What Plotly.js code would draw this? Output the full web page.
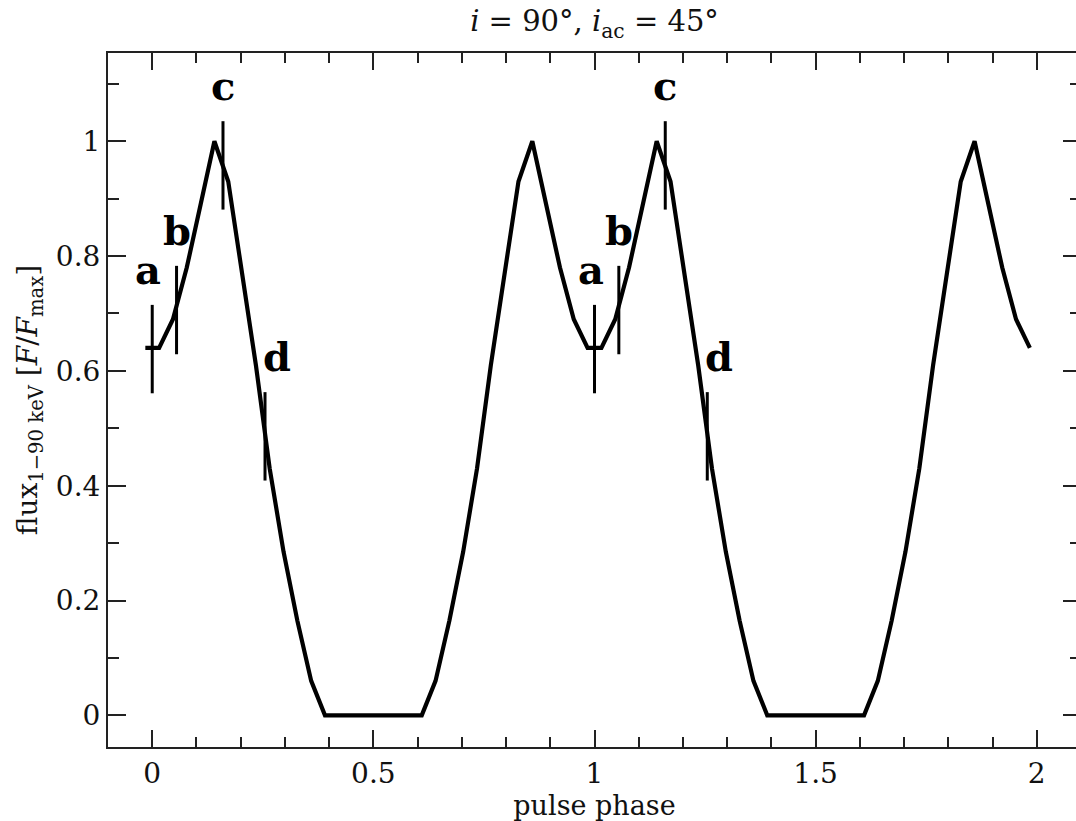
<!DOCTYPE html>
<html>
<head>
<meta charset="utf-8">
<script src="https://cdn.plot.ly/plotly-3.0.1.min.js"></script>
<style>
html,body{margin:0;padding:0;overflow:hidden;background:#fff;}
#chart{width:1090px;height:821px;}
</style>
</head>
<body>
<div id="chart"></div>
<script>
// Pulse profile: phase samples and normalised flux (two cycles)
const phase = [
  -0.0156, 0.0156, 0.0469, 0.0781, 0.1094, 0.1406, 0.1719, 0.2031, 0.2344,
  0.2656, 0.2969, 0.3281, 0.3594, 0.3906, 0.4219, 0.4531, 0.4844,
  0.5156, 0.5469, 0.5781, 0.6094, 0.6406, 0.6719, 0.7031, 0.7344,
  0.7656, 0.7969, 0.8281, 0.8594, 0.8906, 0.9219, 0.9531, 0.9844,
  1.0156, 1.0469, 1.0781, 1.1094, 1.1406, 1.1719, 1.2031, 1.2344,
  1.2656, 1.2969, 1.3281, 1.3594, 1.3906, 1.4219, 1.4531, 1.4844,
  1.5156, 1.5469, 1.5781, 1.6094, 1.6406, 1.6719, 1.7031, 1.7344,
  1.7656, 1.7969, 1.8281, 1.8594, 1.8906, 1.9219, 1.9531, 1.9844
];
const flux = [
  0.64, 0.64, 0.69, 0.78, 0.89, 1.00, 0.93, 0.775, 0.61,
  0.43, 0.285, 0.165, 0.06, 0.0, 0.0, 0.0, 0.0,
  0.0, 0.0, 0.0, 0.0, 0.06, 0.165, 0.285, 0.43,
  0.61, 0.775, 0.93, 1.00, 0.89, 0.78, 0.69, 0.64,
  0.64, 0.69, 0.78, 0.89, 1.00, 0.93, 0.775, 0.61,
  0.43, 0.285, 0.165, 0.06, 0.0, 0.0, 0.0, 0.0,
  0.0, 0.0, 0.0, 0.0, 0.06, 0.165, 0.285, 0.43,
  0.61, 0.775, 0.93, 1.00, 0.89, 0.78, 0.69, 0.64
];

// Marked phases a–d (two cycles) with flux at the marks
const markLabels = ["a", "b", "c", "d", "a", "b", "c", "d"];
const markPhase = [0.0, 0.055, 0.16, 0.255, 1.0, 1.055, 1.16, 1.255];
const markFlux = [0.638, 0.706, 0.958, 0.486, 0.638, 0.706, 0.958, 0.486];
const markHalf = 0.077;

// Axis tick values and labels
const xTickVals = [0, 0.5, 1, 1.5, 2];
const xTickText = ["0", "0.5", "1", "1.5", "2"];
const yTickVals = [0, 0.2, 0.4, 0.6, 0.8, 1];
const yTickText = ["0", "0.2", "0.4", "0.6", "0.8", "1"];

const serif = "DejaVu Serif, Liberation Serif, serif";
const ink = "#111";

const traces = [
  {
    x: phase, y: flux, type: "scatter", mode: "lines",
    line: {color: "#000", width: 4.2}, hoverinfo: "skip", showlegend: false
  },
  {
    x: markPhase, y: markFlux, type: "scatter", mode: "markers",
    marker: {size: 0.1, color: "rgba(0,0,0,0)"},
    error_y: {type: "constant", value: markHalf, width: 0, thickness: 3, color: "#000"},
    hoverinfo: "skip", showlegend: false
  }
];

const labelShiftX = [-4, 0, 0, 12, -4, 0, 0, 12];
const annotations = markLabels.map((t, i) => ({
  x: markPhase[i], y: markFlux[i] + markHalf, xref: "x", yref: "y",
  text: "<b>" + t + "</b>", showarrow: false,
  xanchor: "center", yanchor: "bottom", xshift: labelShiftX[i], yshift: 10,
  font: {family: serif, size: 40, color: "#000"}
}));

const axisCommon = {
  showline: true, linecolor: "#222", linewidth: 2, mirror: "allticks",
  ticks: "inside", tickcolor: "#222", tickwidth: 2,
  showgrid: false, zeroline: false,
  tickfont: {family: serif, size: 28, color: ink},
  fixedrange: true
};

const layout = {
  width: 1090, height: 821,
  margin: {l: 108, r: 9, t: 53, b: 74, pad: 0},
  paper_bgcolor: "#fff", plot_bgcolor: "#fff",
  title: {
    text: "<i>i</i> = 90°, <i>i</i><sub>ac</sub> = 45°",
    font: {family: serif, size: 29, color: ink},
    x: 0.5, xanchor: "center", xref: "paper",
    y: 0.974, yanchor: "middle", yref: "container"
  },
  xaxis: Object.assign({}, axisCommon, {
    range: [-0.1, 2.1],
    tickvals: xTickVals, ticktext: xTickText, ticklen: 17,
    minor: {dtick: 0.1, tick0: 0, ticks: "inside", ticklen: 10, tickwidth: 2, tickcolor: "#222", showgrid: false},
    title: {text: "pulse phase", font: {family: serif, size: 27, color: ink}, standoff: 4}
  }),
  yaxis: Object.assign({}, axisCommon, {
    range: [-0.0552, 1.1538],
    tickvals: yTickVals, ticktext: yTickText, ticklen: 18,
    minor: {dtick: 0.1, tick0: 0, ticks: "inside", ticklen: 11, tickwidth: 2, tickcolor: "#222", showgrid: false},
    title: {text: "flux<sub>1−90 keV</sub> [<i>F</i>/<i>F</i><sub>max</sub>]", font: {family: serif, size: 28, color: ink}, standoff: 10}
  }),
  annotations: annotations,
  showlegend: false
};

Plotly.newPlot("chart", traces, layout, {displayModeBar: false, staticPlot: true});
</script>
</body>
</html>
